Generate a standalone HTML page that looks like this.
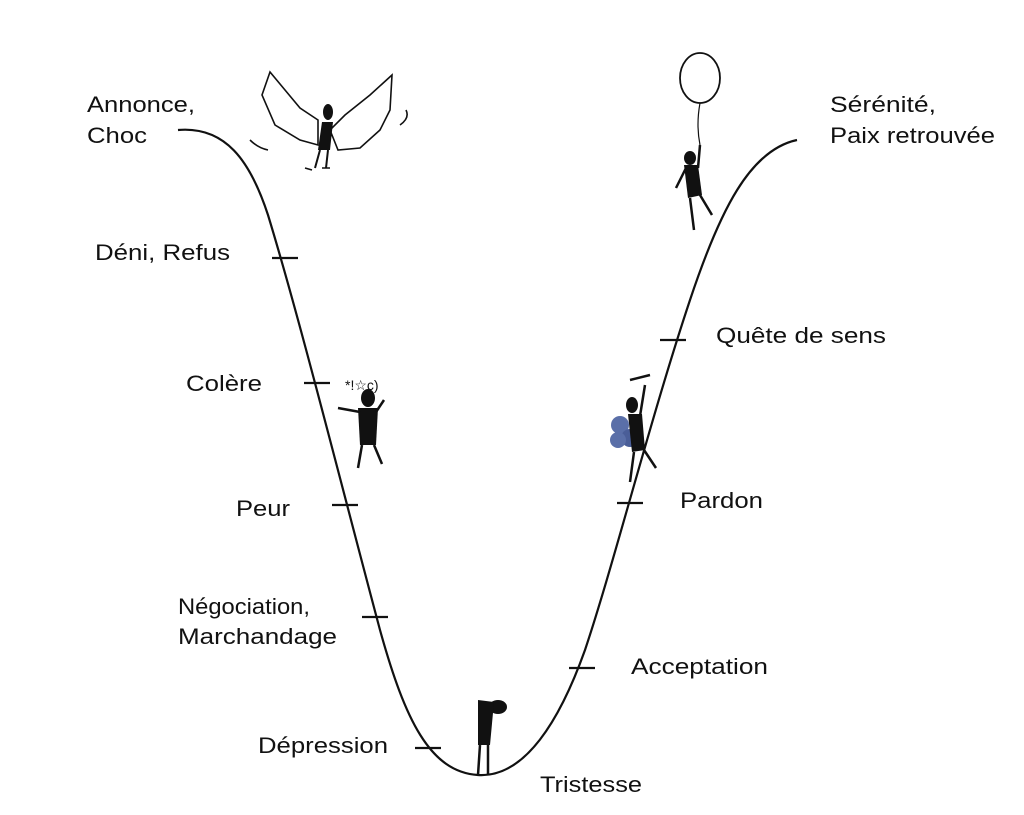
<!DOCTYPE html>
<html><head><meta charset="utf-8"><style>
html,body{margin:0;padding:0;background:#fff;width:1024px;height:815px;overflow:hidden}
svg text{font-family:"Liberation Sans",sans-serif;font-size:22px;fill:#111}
</style></head><body>
<svg width="1024" height="815" viewBox="0 0 1024 815" xmlns="http://www.w3.org/2000/svg">
<g fill="none" stroke="#111" stroke-width="2.2">
<path d="M178,130 C225,126 250,160 268,215 C300,320 340,480 380,630 C405,720 430,772 478,775 C525,778 560,720 585,650 C615,560 650,420 690,300 C720,210 750,150 797,140"/>
<line x1="272" y1="258" x2="298" y2="258"/>
<line x1="304" y1="383" x2="330" y2="383"/>
<line x1="332" y1="505" x2="358" y2="505"/>
<line x1="362" y1="617" x2="388" y2="617"/>
<line x1="415" y1="748" x2="441" y2="748"/>
<line x1="569" y1="668" x2="595" y2="668"/>
<line x1="617" y1="503" x2="643" y2="503"/>
<line x1="660" y1="340" x2="686" y2="340"/>
</g>
<text x="87" y="112" textLength="108" lengthAdjust="spacingAndGlyphs">Annonce,</text>
<text x="87" y="143" textLength="60" lengthAdjust="spacingAndGlyphs">Choc</text>
<text x="95" y="260" textLength="135" lengthAdjust="spacingAndGlyphs">Déni, Refus</text>
<text x="186" y="391" textLength="76" lengthAdjust="spacingAndGlyphs">Colère</text>
<text x="236" y="516" textLength="54" lengthAdjust="spacingAndGlyphs">Peur</text>
<text x="178" y="614" textLength="132" lengthAdjust="spacingAndGlyphs">Négociation,</text>
<text x="178" y="644" textLength="159" lengthAdjust="spacingAndGlyphs">Marchandage</text>
<text x="258" y="753" textLength="130" lengthAdjust="spacingAndGlyphs">Dépression</text>
<text x="540" y="792" textLength="102" lengthAdjust="spacingAndGlyphs">Tristesse</text>
<text x="631" y="674" textLength="137" lengthAdjust="spacingAndGlyphs">Acceptation</text>
<text x="680" y="508" textLength="83" lengthAdjust="spacingAndGlyphs">Pardon</text>
<text x="716" y="343" textLength="170" lengthAdjust="spacingAndGlyphs">Quête de sens</text>
<text x="830" y="112" textLength="106" lengthAdjust="spacingAndGlyphs">Sérénité,</text>
<text x="830" y="143" textLength="165" lengthAdjust="spacingAndGlyphs">Paix retrouvée</text>
<!-- bat figure -->
<g fill="none" stroke="#111" stroke-width="1.6">
<path d="M270,72 L262,95 L275,125 L300,140 L318,145 L318,120 L300,108 L285,90 Z"/>
<path d="M392,75 L370,95 L345,115 L330,130 L338,150 L360,148 L380,130 L390,110 Z"/>
<path d="M250,140 Q258,148 268,150 M400,125 Q410,118 406,110 M312,170 L305,168 M322,168 L330,168"/>
</g>
<ellipse cx="328" cy="112" rx="5" ry="8" fill="#111"/>
<path d="M322,122 L333,122 L330,150 L318,150 Z" fill="#111"/>
<path d="M320,150 L315,168 M328,150 L326,168" stroke="#111" stroke-width="2"/>
<!-- balloon -->
<ellipse cx="700" cy="78" rx="20" ry="25" fill="none" stroke="#111" stroke-width="1.8"/>
<path d="M700,103 Q696,125 700,145" fill="none" stroke="#111" stroke-width="1.2"/>
<ellipse cx="690" cy="158" rx="6" ry="7" fill="#111"/>
<path d="M684,165 L698,165 L702,195 L688,198 Z" fill="#111"/>
<path d="M686,168 L676,188 M698,168 L700,145 M690,198 L694,230 M700,195 L712,215" stroke="#111" stroke-width="2.5" fill="none"/>
<!-- angry -->
<ellipse cx="368" cy="398" rx="7" ry="9" fill="#111"/>
<path d="M358,408 L378,408 L376,445 L360,445 Z" fill="#111"/>
<path d="M360,412 L338,408 M376,412 L384,400 M362,445 L358,468 M374,445 L382,464" stroke="#111" stroke-width="2.5" fill="none"/>
<text x="345" y="390" style="font-size:14px">*!☆c)</text>
<!-- climber -->
<circle cx="620" cy="425" r="9" fill="#5a6fa8"/><circle cx="630" cy="438" r="9" fill="#4a5e98"/><circle cx="618" cy="440" r="8" fill="#5a6fa8"/>
<ellipse cx="632" cy="405" rx="6" ry="8" fill="#111"/>
<path d="M628,414 L642,414 L645,450 L632,452 Z" fill="#111"/>
<path d="M640,416 L645,385 M630,380 L650,375 M634,452 L630,482 M644,450 L656,468" stroke="#111" stroke-width="2.5" fill="none"/>
<!-- sad -->
<ellipse cx="498" cy="707" rx="9" ry="7" fill="#111"/>
<path d="M478,700 L494,702 L490,745 L478,745 Z" fill="#111"/>
<path d="M480,745 L478,775 M488,745 L488,775" stroke="#111" stroke-width="2.5" fill="none"/>
</svg>
</body></html>
